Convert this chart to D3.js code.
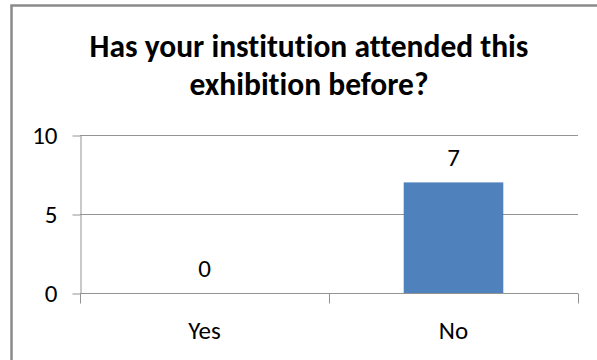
<!DOCTYPE html>
<html>
<head>
<meta charset="utf-8">
<script src="https://cdnjs.cloudflare.com/ajax/libs/d3/7.8.5/d3.min.js"></script>
<style>
  body { margin: 0; background: #fff; }
  text { font-family: Carlito, Calibri, Lato, sans-serif; fill: #000; font-variant-ligatures: none; }
</style>
</head>
<body>
<script>
const categories = ["Yes", "No"];
const counts = [0, 7];
const yTicks = [0, 5, 10];
const titleLines = ["Has your institution attended this", "exhibition before?"];

const width = 597, height = 360;
const plot = { left: 80, right: 578, top: 135, bottom: 293 };

const svg = d3.select("body").append("svg")
    .attr("width", width).attr("height", height);

svg.append("rect").attr("width", width).attr("height", height).attr("fill", "#fff");

// outer chart border, runs off the right and bottom of the picture
svg.append("rect")
    .attr("x", 11.5).attr("y", 5.5)
    .attr("width", 800).attr("height", 600)
    .attr("fill", "none").attr("stroke", "#8a8a8a").attr("stroke-width", 2.5);

// title
svg.append("g").selectAll("text").data(titleLines).enter().append("text")
    .attr("x", 309)
    .attr("y", function(d, i) { return 57 + i * 38; })
    .attr("text-anchor", "middle")
    .style("font-size", "31.5px").style("font-weight", "bold")
    .text(function(d) { return d; });

var y = d3.scaleLinear().domain([0, 10]).range([plot.bottom, plot.top]);
var xOuter = d3.scaleBand().domain(categories).range([plot.left, plot.right]);
var xBar = d3.scaleBand().domain(categories).range([plot.left, plot.right])
    .paddingInner(0.6).paddingOuter(0.3);

// gridlines
svg.append("g").selectAll("line").data(yTicks).enter().append("line")
    .attr("x1", plot.left).attr("x2", plot.right)
    .attr("y1", function(d) { return Math.round(y(d)) + 0.5; })
    .attr("y2", function(d) { return Math.round(y(d)) + 0.5; })
    .attr("stroke", "#949494");

// y axis
var yAxis = svg.append("g")
    .attr("transform", "translate(" + (plot.left + 0.5) + ",0.5)")
    .call(d3.axisLeft(y).tickValues(yTicks).tickSize(8).tickPadding(15).tickSizeOuter(0));
yAxis.select(".domain").attr("stroke", "#949494");
yAxis.selectAll(".tick line").attr("stroke", "#949494");
yAxis.selectAll(".tick text").style("font-size", "25px").attr("fill", "#000");

// bars
svg.append("g").selectAll("rect").data(counts).enter().append("rect")
    .attr("x", function(d, i) { return xBar(categories[i]); })
    .attr("width", xBar.bandwidth())
    .attr("y", function(d) { return y(d); })
    .attr("height", function(d) { return y(0) - y(d); })
    .attr("fill", "#4f81bd");

// x axis: ticks at category boundaries, labels centred
var bounds = categories.map(function(c) { return xOuter(c); }).concat([plot.right]);
var xAxis = svg.append("g").attr("transform", "translate(0," + (Math.round(y(0)) + 0.5) + ")");
xAxis.append("line").attr("x1", plot.left).attr("x2", plot.right)
    .attr("stroke", "#949494");
xAxis.selectAll(".btick").data(bounds).enter().append("line")
    .attr("class", "btick")
    .attr("x1", function(d) { return Math.round(d) + 0.5; })
    .attr("x2", function(d) { return Math.round(d) + 0.5; })
    .attr("y1", 0).attr("y2", 10)
    .attr("stroke", "#949494");
xAxis.selectAll(".lbl").data(categories).enter().append("text")
    .attr("class", "lbl")
    .attr("x", function(d) { return xOuter(d) + xOuter.bandwidth() / 2; })
    .attr("y", 45)
    .attr("text-anchor", "middle")
    .style("font-size", "25px")
    .text(function(d) { return d; });

// data labels
svg.append("g").selectAll("text").data(counts).enter().append("text")
    .attr("x", function(d, i) { return xBar(categories[i]) + xBar.bandwidth() / 2; })
    .attr("y", function(d) { return y(d) - 16; })
    .attr("text-anchor", "middle")
    .style("font-size", "25px")
    .text(function(d) { return d; });
</script>
</body>
</html>
